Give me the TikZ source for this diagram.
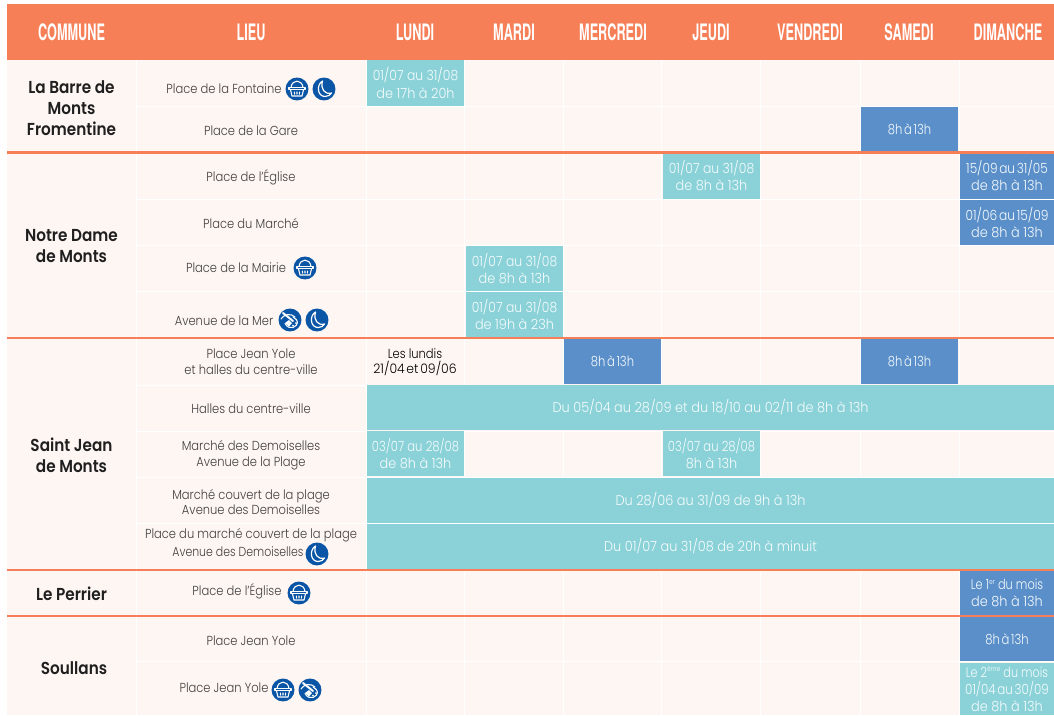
\documentclass[tikz,border=0pt]{standalone}
\usepackage{fontspec}
\setmainfont{Poppins}[UprightFont=* Light,BoldFont=* SemiBold,FakeStretch=0.88]
\newfontfamily\cellfont{Poppins}[UprightFont=* Light,BoldFont=* SemiBold,FakeStretch=0.92]
\newfontfamily\headfont{TeX Gyre Heros}[UprightFont=*,BoldFont=* Bold,FakeStretch=0.56]
\definecolor{bgc}{HTML}{FEF6F2}
\definecolor{hdc}{HTML}{F67F57}
\definecolor{tealc}{HTML}{8AD2D8}
\definecolor{bluec}{HTML}{5B8FCA}
\definecolor{iconc}{HTML}{0A55A5}
\definecolor{txtc}{HTML}{403F3F}
\newcommand{\ts}{\hspace{-0.12em}}
\newcommand{\sq}[2]{\scalebox{#1}[1]{#2}}
\tikzset{
 x=0.75pt,y=-0.75pt,
 hd/.style={text=white,font=\headfont\bfseries\fontsize{17}{19}\selectfont,anchor=center,inner sep=0},
 com/.style={text=black!88,font=\bfseries\fontsize{13}{15.8}\selectfont,align=center,anchor=center,inner sep=0},
 lieu/.style={text=txtc,font=\fontsize{9.8}{11.7}\selectfont,align=center,anchor=center,inner sep=0},
 ctx/.style={text=white!92!tealc,font=\cellfont\fontsize{10.5}{12.8}\selectfont,align=center,anchor=center,inner sep=0},
 sep/.style={white,line width=0.75pt},
 rule/.style={hdc,line width=1.9pt},
 iconline/.style={white,line width=0.8pt,line cap=round,line join=round},
}
\newcommand{\cellbox}[7]{%
 \fill[#6] (#2,#3) rectangle (#4,#5);
 \node[ctx] (#1) at ({(#2+#4)/2},{(#3+#5)/2}) {#7};}
\newcommand{\iconbasket}[3]{%
 \begin{scope}[shift={(#2,#3)}]
 \node[circle,fill=iconc,minimum size=17.2pt,inner sep=0] (#1) at (0,0) {};
 \draw[iconline] (-8,-1.5) -- (8,-1.5) -- (8,0.8) -- (-8,0.8) -- cycle;
 \draw[iconline] (-6.5,0.8) -- (-5,7) -- (5,7) -- (6.5,0.8);
 \draw[iconline] (-6,-1.5) .. controls (-5,-10) and (5,-10) .. (6,-1.5);
 \draw[iconline] (-2.7,3) -- (-2.3,5.2) (0,3) -- (0,5.2) (2.7,3) -- (2.3,5.2);
 \end{scope}}
\newcommand{\iconmoon}[3]{%
 \begin{scope}[shift={(#2,#3)}]
 \node[circle,fill=iconc,minimum size=17.2pt,inner sep=0] (#1) at (0,0) {};
 \draw[iconline,line width=0.9pt] (-1.5,-8) .. controls (-8,-4) and (-6.5,7.5) .. (1,7.5)
   .. controls (4,7.5) and (6.5,6) .. (7.5,4) .. controls (1,6) and (-4,0) .. (-1.5,-8) -- cycle;
 \end{scope}}
\newcommand{\iconpalette}[3]{%
 \begin{scope}[shift={(#2,#3)}]
 \node[circle,fill=iconc,minimum size=17.2pt,inner sep=0] (#1) at (0,0) {};
 \draw[iconline] (-9,-1) .. controls (-6,-6) and (1,-7) .. (5,-3);
 \draw[iconline,line width=1.5pt] (-7,-7) -- (3,1);
 \draw[iconline] (3,-3) .. controls (9,0) and (9,5) .. (3,7.5) .. controls (0,8.5) and (-3,7) .. (-5,3.5);
 \fill[white] (-5,3) -- (-1,0) -- (2,3) -- (-1,6.5) -- cycle;
 \fill[white] (6,3) circle (1) (3,5.5) circle (1);
 \end{scope}}
\begin{document}
\begin{tikzpicture}
\useasboundingbox (0,0) rectangle (1054,715);
\fill[white] (0,0) rectangle (1054,715);
\fill[bgc] (7,60) rectangle (1054,715);
\fill[hdc] (7,4) rectangle (1054,60);
\foreach \gx in {136,366,464,563,661,760,860,959} \draw[sep] (\gx,60) -- (\gx,715);
\foreach \gy in {106,199,245,291,385,431,477,523,661} \draw[sep] (136,\gy) -- (1054,\gy);
\node[hd] (hcom) at (71.5,32) {COMMUNE};
\node[hd] (hlieu) at (251,32.5) {LIEU};
\node[hd] (hlun) at (415,32.5) {LUNDI};
\node[hd] (hmar) at (514,32.5) {MARDI};
\node[hd] (hmer) at (613,32.5) {MERCREDI};
\node[hd] (hjeu) at (711,32.5) {JEUDI};
\node[hd] (hven) at (810,32.5) {VENDREDI};
\node[hd] (hsam) at (909,32.5) {SAMEDI};
\node[hd] (hdim) at (1008,32.5) {DIMANCHE};
\cellbox{c01}{367}{60}{464}{106}{tealc}{\sq{.96}{01/07 au 31/08}\\de 17h à 20h}
\cellbox{c02}{861}{107}{958}{152}{bluec}{\sq{.9}{8h\ts{} à\ts{} 13h}}
\cellbox{c03}{663}{153}{760}{199}{tealc}{\sq{.96}{01/07 au 31/08}\\de 8h à 13h}
\cellbox{c04}{960}{153}{1054}{199}{bluec}{\sq{.94}{15/09\ts{} au\ts{} 31/05}\\de 8h à 13h}
\cellbox{c05}{960}{200}{1054}{245}{bluec}{\sq{.95}{01/06\ts{} au\ts{} 15/09}\\de 8h à 13h}
\cellbox{c06}{466}{246}{563}{291}{tealc}{\sq{.96}{01/07 au 31/08}\\de 8h à 13h}
\cellbox{c07}{466}{292}{563}{337}{tealc}{\sq{.96}{01/07 au 31/08}\\de 19h à 23h}
\cellbox{c08}{564}{339}{661}{384}{bluec}{\sq{.9}{8h\ts{} à\ts{} 13h}}
\cellbox{c09}{861}{339}{958}{384}{bluec}{\sq{.9}{8h\ts{} à\ts{} 13h}}
\cellbox{c10}{367}{385}{1054}{430}{tealc}{Du 05/04 au 28/09 et du 18/10 au 02/11 de 8h à 13h}
\cellbox{c11}{367}{431}{464}{476}{tealc}{\sq{.9}{03/07 au 28/08}\\de 8h à 13h}
\cellbox{c12}{663}{431}{760}{476}{tealc}{\sq{.9}{03/07 au 28/08}\\8h à 13h}
\cellbox{c13}{367}{478}{1054}{523}{tealc}{Du 28/06 au 31/09 de 9h à 13h}
\cellbox{c14}{367}{524}{1054}{569}{tealc}{Du 01/07 au 31/08 de 20h à minuit}
\cellbox{c15}{960}{571}{1054}{615}{bluec}{\sq{.88}{Le 1\raisebox{0.7ex}{\fontsize{5.5}{6}\selectfont er} du mois}\\de 8h à 13h}
\cellbox{c16}{960}{617}{1054}{661}{bluec}{\sq{.9}{8h\ts{} à\ts{} 13h}}
\cellbox{c17}{960}{663}{1054}{715}{tealc}{\sq{.87}{Le 2\raisebox{0.7ex}{\fontsize{5.5}{6}\selectfont ème} du mois}\\\sq{.92}{01/04\ts{} au\ts{} 30/09}\\de 8h à 13h}
\foreach \gy in {152.5,338,570,616} \draw[rule] (7,\gy) -- (1054,\gy);
\node[com] (m1) at (71.5,108) {La Barre de\\Monts\\Fromentine};
\node[com] (m2) at (71.5,246) {Notre Dame\\de Monts};
\node[com] (m3) at (71.5,455) {Saint Jean\\de Monts};
\node[com] (m4) at (71.5,594) {Le Perrier};
\node[com] (m5) at (74,668) {Soullans};
\node[lieu] (l1) at (224,89) {Place de la Fontaine};
\node[lieu] (l2) at (251,131) {Place de la Gare};
\node[lieu] (l3) at (251,177) {Place de l’Église};
\node[lieu] (l4) at (251,224) {Place du Marché};
\node[lieu] (l5) at (236,268) {Place de la Mairie};
\node[lieu] (l6) at (224,321) {Avenue de la Mer};
\node[lieu] (l7) at (251,362) {Place Jean Yole\\et halles du centre-ville};
\node[lieu] (l8) at (251,409) {Halles du centre-ville};
\node[lieu] (l9) at (251,455) {Marché des Demoiselles\\Avenue de la Plage};
\node[lieu] (l10) at (251,502) {Marché couvert de la plage\\Avenue des Demoiselles};
\node[lieu] (l11) at (251,535) {Place du marché couvert de la plage};
\node[lieu] (l12) at (238,552) {\sq{.95}{Avenue des Demoiselles}};
\node[lieu] (l13) at (237,591) {Place de l’Église};
\node[lieu] (l14) at (251,641) {Place Jean Yole};
\node[lieu] (l15) at (224,688) {Place Jean Yole};
\node[lieu,text=black] (lun) at (415,362) {Les lundis\\\sq{1.08}{21/04\ts{} et\ts{} 09/06}};
\iconbasket{i1}{297}{89}
\iconmoon{i2}{324}{89}
\iconbasket{i3}{305}{268}
\iconpalette{i4}{290}{320}
\iconmoon{i5}{317}{320}
\iconmoon{i6}{317}{554}
\iconbasket{i7}{299}{593}
\iconbasket{i8}{283}{690}
\iconpalette{i9}{310}{690}
\end{tikzpicture}
\end{document}
